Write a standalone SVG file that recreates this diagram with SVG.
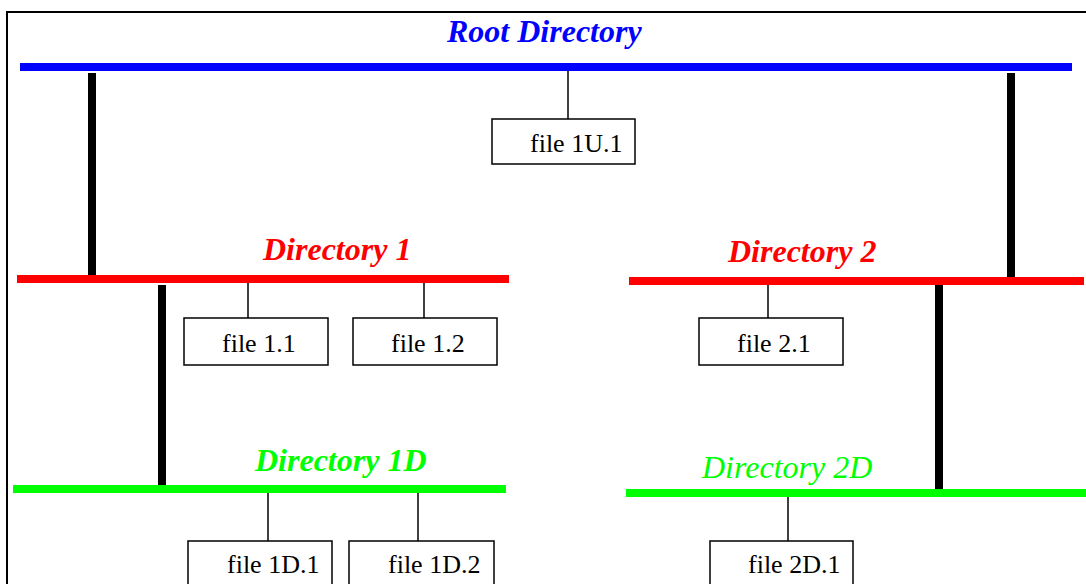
<svg xmlns="http://www.w3.org/2000/svg" width="1086" height="584" viewBox="0 0 1086 584">
<style>
.bus{stroke-width:8;fill:none}
.trunk{stroke:#000;stroke-width:8;fill:none}
.tie{stroke:#000;stroke-width:1.5;fill:none}
.box{fill:#fff;stroke:#000;stroke-width:1.5}
.lbl{font-family:"Liberation Serif","Times New Roman",serif;font-size:26px;fill:#000}
.hd{font-family:"Liberation Serif","Times New Roman",serif;font-size:32px;font-style:italic;font-weight:bold}
</style>
<rect width="1086" height="584" fill="#fff"/>
<rect x="7" y="12" width="1100" height="600" fill="none" stroke="#000" stroke-width="2"/>
<g id="connectors">
<line class="trunk" x1="92" y1="73" x2="92" y2="275"/>
<line class="trunk" x1="1011" y1="73" x2="1011" y2="277"/>
<line class="trunk" x1="162" y1="285" x2="162" y2="485"/>
<line class="trunk" x1="939" y1="285" x2="939" y2="489"/>
<line class="tie" x1="568" y1="67" x2="568" y2="119"/>
<line class="tie" x1="248" y1="279" x2="248" y2="318"/>
<line class="tie" x1="424" y1="279" x2="424" y2="318"/>
<line class="tie" x1="768" y1="281" x2="768" y2="318"/>
<line class="tie" x1="268" y1="489" x2="268" y2="541"/>
<line class="tie" x1="418" y1="489" x2="418" y2="541"/>
<line class="tie" x1="788" y1="493" x2="788" y2="541"/>
</g>
<g id="root">
<line class="bus" stroke="#0000ff" x1="20" y1="67" x2="1072" y2="67"/>
<text class="hd" fill="#0000ff" x="447" y="42">Root Directory</text>
</g>
<g id="dir1">
<line class="bus" stroke="#ff0000" x1="17" y1="279" x2="509" y2="279"/>
<text class="hd" fill="#ff0000" x="263" y="260">Directory 1</text>
</g>
<g id="dir2">
<line class="bus" stroke="#ff0000" x1="629" y1="281" x2="1084" y2="281"/>
<text class="hd" fill="#ff0000" x="728" y="262">Directory 2</text>
</g>
<g id="dir1d">
<line class="bus" stroke="#00ff00" x1="13" y1="489" x2="506" y2="489"/>
<text class="hd" fill="#00ff00" x="255" y="471">Directory 1D</text>
</g>
<g id="dir2d">
<line class="bus" stroke="#00ff00" x1="626" y1="493" x2="1090" y2="493"/>
<text class="hd" fill="#00ff00" font-weight="normal" style="font-weight:normal" x="702" y="478">Directory 2D</text>
</g>
<g id="file1U1"><rect class="box" x="492" y="119" width="143" height="45"/><text class="lbl" x="530" y="152">file 1U.1</text></g>
<g id="file11"><rect class="box" x="184" y="318" width="144" height="47"/><text class="lbl" x="222" y="352">file 1.1</text></g>
<g id="file12"><rect class="box" x="353" y="318" width="144" height="47"/><text class="lbl" x="391" y="352">file 1.2</text></g>
<g id="file21"><rect class="box" x="699" y="318" width="144" height="47"/><text class="lbl" x="737" y="352">file 2.1</text></g>
<g id="file1D1"><rect class="box" x="188" y="541" width="144" height="60"/><text class="lbl" x="227" y="573">file 1D.1</text></g>
<g id="file1D2"><rect class="box" x="349" y="541" width="145" height="60"/><text class="lbl" x="388" y="573">file 1D.2</text></g>
<g id="file2D1"><rect class="box" x="710" y="541" width="143" height="60"/><text class="lbl" x="748" y="573">file 2D.1</text></g>
</svg>
